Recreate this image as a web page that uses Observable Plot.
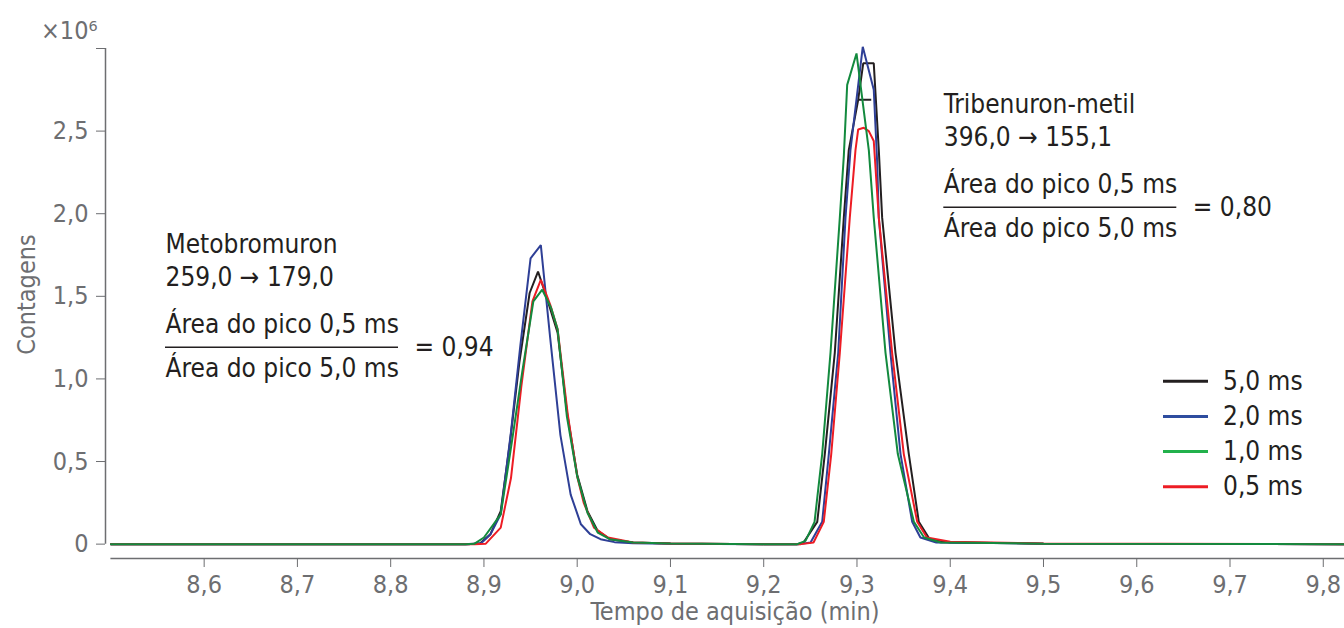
<!DOCTYPE html>
<html>
<head>
<meta charset="utf-8">
<script src="https://cdn.jsdelivr.net/npm/d3@7"></script>
<script src="https://cdn.jsdelivr.net/npm/@observablehq/plot@0.6"></script>
<style>
  body { margin: 0; background: #fff; }
  #chart svg { display: block; }
</style>
</head>
<body>
<div id="chart"></div>
<script>
// ---------- data ----------
const seriesNames = ["5,0 ms", "2,0 ms", "1,0 ms", "0,5 ms"];
const lineColors = ["#231f20", "#2e3f96", "#138a3e", "#ed1c24"];
const legendColors = ["#231f20", "#2e4d9f", "#22b14c", "#ed1c24"];

const xTicks = [8.6, 8.7, 8.8, 8.9, 9.0, 9.1, 9.2, 9.3, 9.4, 9.5, 9.6, 9.7, 9.8];
const yTicks = [0, 0.5, 1.0, 1.5, 2.0, 2.5, 3.0];

// 5,0 ms (black)
const t5 = [8.5, 8.880, 8.896, 8.907, 8.918, 8.928, 8.938, 8.949, 8.958, 8.968, 8.979, 8.989, 9.000, 9.011, 9.022, 9.035, 9.06, 9.10, 9.20,
            9.236, 9.2427, 9.2574, 9.2655, 9.2762, 9.2859, 9.2912, 9.3013, 9.3153, 9.3013, 9.3067, 9.318, 9.3234, 9.327, 9.3413, 9.3556, 9.3663, 9.378, 9.40, 9.50, 9.8227];
const v5 = [0, 0, 0.005, 0.06, 0.20, 0.62, 1.10, 1.52, 1.65, 1.48, 1.28, 0.80, 0.42, 0.20, 0.08, 0.03, 0.01, 0.004, 0,
            0, 0.01, 0.135, 0.545, 1.158, 1.976, 2.385, 2.69, 2.69, 2.69, 2.91, 2.91, 2.385, 1.976, 1.158, 0.545, 0.135, 0.03, 0.01, 0.003, 0];
// 2,0 ms (blue)
const t2 = [8.5, 8.885, 8.897, 8.907, 8.918, 8.929, 8.939, 8.950, 8.961, 8.971, 8.982, 8.993, 9.004, 9.014, 9.025, 9.040, 9.06, 9.10, 9.20,
            9.238, 9.2502, 9.2627, 9.2698, 9.2799, 9.2877, 9.293, 9.3062, 9.318, 9.3216, 9.3234, 9.3359, 9.3467, 9.3592, 9.368, 9.385, 9.50, 9.8227];
const v2 = [0, 0, 0.005, 0.06, 0.18, 0.68, 1.20, 1.73, 1.81, 1.25, 0.66, 0.30, 0.12, 0.06, 0.03, 0.012, 0.005, 0.003, 0,
            0, 0.01, 0.135, 0.545, 1.158, 1.976, 2.385, 3.01, 2.75, 2.32, 1.976, 1.158, 0.545, 0.135, 0.04, 0.01, 0.003, 0];
// 1,0 ms (green)
const t1 = [8.5, 8.88, 8.890, 8.900, 8.918, 8.930, 8.941, 8.953, 8.9625, 8.972, 8.979, 8.989, 9.000, 9.011, 9.022, 9.035, 9.06, 9.10, 9.20,
            9.236, 9.2448, 9.2545, 9.2627, 9.2716, 9.2816, 9.2859, 9.2895, 9.2995, 9.3127, 9.318, 9.3306, 9.3438, 9.361, 9.372, 9.39, 9.50, 9.8227];
const v1 = [0, 0, 0.003, 0.04, 0.18, 0.62, 1.04, 1.47, 1.54, 1.43, 1.30, 0.77, 0.41, 0.19, 0.07, 0.03, 0.01, 0.004, 0,
            0, 0.02, 0.135, 0.545, 1.158, 1.976, 2.35, 2.78, 2.97, 2.385, 1.976, 1.158, 0.545, 0.135, 0.04, 0.01, 0.003, 0];
// 0,5 ms (red)
const t05 = [8.5, 8.89, 8.902, 8.918, 8.929, 8.940, 8.952, 8.961, 8.971, 8.979, 8.990, 9.000, 9.007, 9.018, 9.033, 9.06, 9.10, 9.20,
             9.240, 9.2534, 9.2644, 9.2724, 9.2816, 9.2923, 9.2984, 9.3013, 9.3073, 9.3127, 9.318, 9.3234, 9.3377, 9.3502, 9.3646, 9.375, 9.40, 9.50, 9.8227];
const v05 = [0, 0, 0.003, 0.10, 0.40, 0.95, 1.47, 1.60, 1.45, 1.30, 0.78, 0.41, 0.25, 0.10, 0.04, 0.01, 0.004, 0,
             0, 0.01, 0.135, 0.545, 1.158, 1.976, 2.385, 2.51, 2.52, 2.50, 2.44, 1.976, 1.158, 0.545, 0.135, 0.04, 0.015, 0.004, 0];

const metoLines = ["Metobromuron", "259,0 \u2192 179,0", "\u00c1rea do pico 0,5 ms", "\u00c1rea do pico 5,0 ms"];
const metoRatio = "= 0,94";
const tribLines = ["Tribenuron-metil", "396,0 \u2192 155,1", "\u00c1rea do pico 0,5 ms", "\u00c1rea do pico 5,0 ms"];
const tribRatio = "= 0,80";

const xLabel = "Tempo de aquisi\u00e7\u00e3o (min)";
const yLabel = "Contagens";
const yExp = "\u00d710\u2076";

// ---------- layout ----------
const W = 1344, H = 628, mL = 105, mR = 0, mT = 48, mB = 70;
const xDom = [8.49421, 9.82276], yDom = [-0.087, 3.0];
const xs = d3.scaleLinear(xDom, [mL, W - mR]);
const ys = d3.scaleLinear(yDom, [H - mB, mT]);
const FONT = "'DejaVu Sans Condensed', 'DejaVu Sans', sans-serif";
const axisGray = "#6d6e71", ink = "#231f20";
const fmt = d => d === 0 ? "0" : d.toFixed(1).replace(".", ",");

const times = [t5, t2, t1, t05], vals = [v5, v2, v1, v05];
const seriesData = seriesNames.map((name, i) => times[i].map((t, j) => ({t, v: vals[i][j], s: name})));
const drawOrder = [0, 1, 3, 2];

function annotation(leftPx, fracPx, lines, ratio) {
  const offs = [-103, -70, -23, 21];
  const rows = lines.map((text, i) => ({x: xs.invert(leftPx), y: ys.invert(fracPx + offs[i]), text}));
  rows.push({x: xs.invert(leftPx + 249), y: ys.invert(fracPx), text: ratio});
  return [
    Plot.text(rows, {x: "x", y: "y", text: "text", textAnchor: "start", lineAnchor: "middle", fontSize: 26, fill: ink}),
    Plot.ruleY([ys.invert(fracPx)], {x1: xs.invert(leftPx), x2: xs.invert(leftPx + 233), stroke: ink, strokeWidth: 1.5})
  ];
}

const legendRows = seriesNames.map((name, i) => ({
  name, color: legendColors[i],
  y: ys.invert(380.7 + i * 35.2),
  x1: xs.invert(1163), x2: xs.invert(1208), xt: xs.invert(1222.5)
}));

const chart = Plot.plot({
  width: W, height: H,
  marginLeft: mL, marginRight: mR, marginTop: mT, marginBottom: mB,
  x: {domain: xDom, label: null},
  y: {domain: yDom, label: null},
  style: {fontFamily: FONT, fontSize: "25px", background: "#fff", overflow: "visible"},
  marks: [
    Plot.ruleY([yDom[0]], {x1: 8.5, x2: xDom[1], stroke: axisGray, strokeWidth: 1.5}),
    Plot.ruleX([xDom[0]], {y1: 0, y2: 3.0, stroke: axisGray, strokeWidth: 1.5}),
    Plot.axisX({ticks: xTicks, tickFormat: fmt, tickSize: 9, tickPadding: 8, fontSize: 25, color: axisGray, label: null}),
    Plot.axisY({ticks: yTicks, tickFormat: d => d === 3 ? "" : fmt(d), tickSize: 9, tickPadding: 8, fontSize: 25, color: axisGray, label: null}),
    ...drawOrder.map(i => Plot.line(seriesData[i], {x: "t", y: "v", stroke: lineColors[i], strokeWidth: 2, strokeLinejoin: "miter"})),
    ...annotation(165, 346.7, metoLines, metoRatio),
    ...annotation(943.3, 206.7, tribLines, tribRatio),
    Plot.ruleY(legendRows, {y: "y", x1: "x1", x2: "x2", stroke: "color", strokeWidth: 3}),
    Plot.text(legendRows, {x: "xt", y: "y", text: "name", textAnchor: "start", lineAnchor: "middle", fontSize: 26, fill: ink}),
    Plot.text([xLabel], {frameAnchor: "bottom", dx: 10, dy: 53, textAnchor: "middle", lineAnchor: "middle", fontSize: 25, fill: axisGray}),
    Plot.text([yLabel], {frameAnchor: "left", dx: -79, dy: -9, rotate: -90, textAnchor: "middle", lineAnchor: "middle", fontSize: 25, fill: axisGray}),
    Plot.text([yExp], {frameAnchor: "top-left", dx: -8, dy: -18, textAnchor: "end", lineAnchor: "middle", fontSize: 25, fill: axisGray})
  ]
});
document.getElementById("chart").appendChild(chart);
</script>
</body>
</html>
